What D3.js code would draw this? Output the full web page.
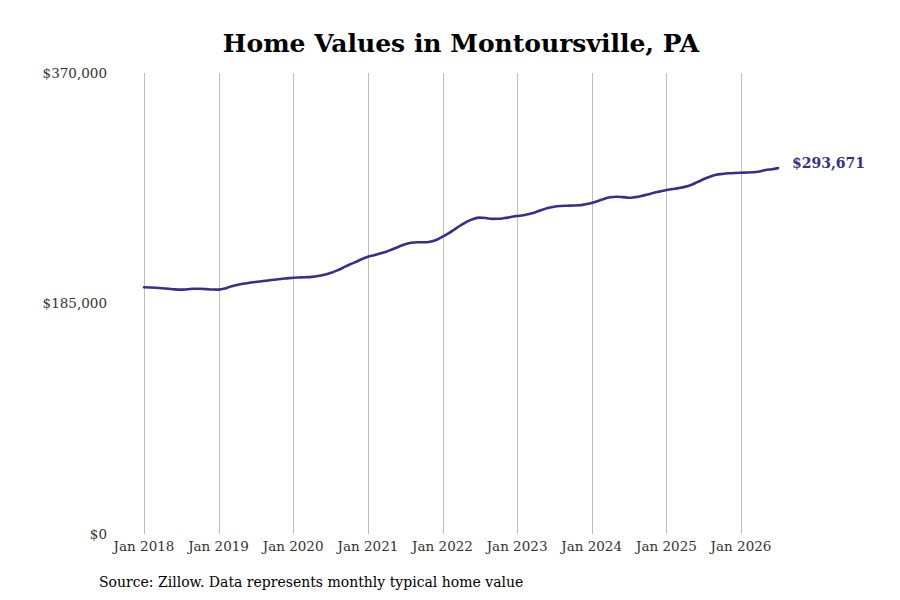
<!DOCTYPE html>
<html>
<head>
<meta charset="utf-8">
<script src="https://cdn.jsdelivr.net/npm/d3@7"></script>
<style>
  html, body { margin: 0; padding: 0; background: #fff; }
  svg { display: block; }
</style>
</head>
<body>
<div id="chart"></div>
<script>
// ---- Data (monthly typical home value, Jan 2018 – Jul 2026) ----
const startMonth = "2018-01";
const values = [
  // 2018
  198000, 197900, 197700, 197300, 196800, 196300, 196100, 196400, 196800, 196800, 196500, 196200,
  // 2019
  196100, 197000, 198600, 199800, 200800, 201600, 202300, 202900, 203500, 204100, 204700, 205200,
  // 2020
  205700, 205900, 206100, 206400, 207000, 208000, 209400, 211400, 213700, 216100, 218200, 220500,
  // 2021
  222600, 223800, 225200, 226600, 228500, 230600, 232500, 233800, 234100, 234100, 234600, 236000,
  // 2022
  238600, 241400, 244500, 247800, 250700, 252800, 253900, 253600, 252900, 253000, 253600, 254400,
  // 2023
  255200, 255900, 256800, 258300, 260100, 261600, 262700, 263300, 263500, 263600, 263800, 264600,
  // 2024
  265600, 267300, 268900, 270200, 270700, 270400, 269900, 270400, 271300, 272500, 273900, 275000,
  // 2025
  276100, 276900, 277600, 278600, 280100, 282400, 284700, 286800, 288400, 289000, 289500, 289800,
  // 2026
  290000, 290100, 290300, 291000, 292100, 292800, 293671
];
const yTickValues = [0, 185000, 370000];
const xTickYears = [2018, 2019, 2020, 2021, 2022, 2023, 2024, 2025, 2026];
const titleText = "Home Values in Montoursville, PA";
const sourceText = "Source: Zillow. Data represents monthly typical home value";

(function () {
  const parse = d3.timeParse("%Y-%m");
  const t0 = parse(startMonth);
  const data = values.map((v, i) => ({ date: d3.timeMonth.offset(t0, i), value: v }));

  const W = 900, H = 600;
  const mLeft = 144, mRight = 778, mTop = 73, mBottom = 534;
  const lineColor = "#33318a";
  const font = "'DejaVu Serif', serif";

  const svg = d3.select("#chart").append("svg")
    .attr("width", W).attr("height", H);

  const x = d3.scaleTime()
    .domain([data[0].date, data[data.length - 1].date])
    .range([mLeft, mRight]);
  const y = d3.scaleLinear()
    .domain([0, 370000])
    .range([mBottom, mTop]);

  const xTicks = xTickYears.map(yr => new Date(yr, 0, 1));
  svg.append("g")
    .selectAll("line")
    .data(xTicks)
    .join("line")
    .attr("x1", d => Math.round(x(d)) + 0.5).attr("x2", d => Math.round(x(d)) + 0.5)
    .attr("y1", mTop).attr("y2", mBottom)
    .attr("stroke", "#bdbdbd")
    .attr("stroke-width", 1);

  svg.append("g")
    .selectAll("text")
    .data(xTicks)
    .join("text")
    .attr("x", d => x(d))
    .attr("y", 550.5)
    .attr("text-anchor", "middle")
    .attr("font-family", font)
    .attr("font-size", 13.5)
    .attr("fill", "#333")
    .text(d => d3.timeFormat("%b %Y")(d));

  const fmt = d3.format("$,.0f");
  svg.append("g")
    .selectAll("text")
    .data(yTickValues)
    .join("text")
    .attr("x", 107)
    .attr("y", d => y(d))
    .attr("dy", "0.35em")
    .attr("text-anchor", "end")
    .attr("font-family", font)
    .attr("font-size", 13.5)
    .attr("fill", "#333")
    .text(d => fmt(d));

  const line = d3.line()
    .x(d => x(d.date))
    .y(d => y(d.value))
    .curve(d3.curveMonotoneX);

  svg.append("path")
    .datum(data)
    .attr("d", line)
    .attr("fill", "none")
    .attr("stroke", lineColor)
    .attr("stroke-width", 2.6)
    .attr("stroke-linecap", "round")
    .attr("stroke-linejoin", "round");

  const last = data[data.length - 1];
  svg.append("text")
    .attr("x", x(last.date) + 14)
    .attr("y", y(last.value) - 5)
    .attr("dy", "0.35em")
    .attr("font-family", font)
    .attr("font-size", 14)
    .attr("font-weight", "bold")
    .attr("fill", lineColor)
    .text(fmt(last.value));

  svg.append("text")
    .attr("x", 461)
    .attr("y", 52)
    .attr("text-anchor", "middle")
    .attr("font-family", font)
    .attr("font-size", 25)
    .attr("font-weight", "bold")
    .attr("fill", "#000")
    .text(titleText);

  svg.append("text")
    .attr("x", 99)
    .attr("y", 587)
    .attr("font-family", font)
    .attr("font-size", 14)
    .attr("fill", "#000")
    .text(sourceText);
})();
</script>
</body>
</html>
